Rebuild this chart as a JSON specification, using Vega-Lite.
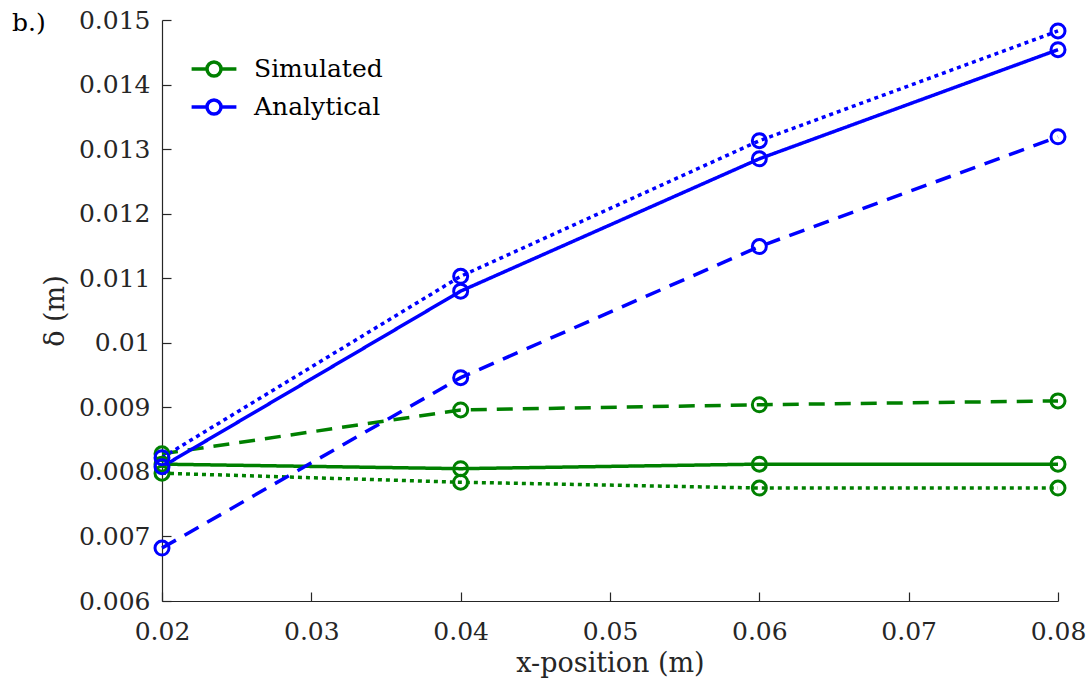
{
  "$schema": "https://vega.github.io/schema/vega-lite/v6.json",
  "autosize": {"type": "none"},
  "width": 896,
  "height": 581,
  "padding": {"left": 162, "top": 20, "right": 31, "bottom": 89},
  "background": "white",
  "title": {
    "text": "b.)",
    "anchor": "start",
    "frame": "group",
    "orient": "top",
    "dx": -150,
    "dy": 32,
    "font": "DejaVu Serif",
    "fontSize": 25,
    "fontWeight": "normal",
    "color": "#000000"
  },
  "config": {
    "view": {"stroke": null},
    "font": "DejaVu Serif",
    "axis": {
      "grid": false,
      "domainColor": "#262626",
      "domainWidth": 1.2,
      "tickColor": "#262626",
      "tickWidth": 1.2,
      "tickSize": -9,
      "labelFlush": false,
      "labelColor": "#262626",
      "labelFont": "DejaVu Serif",
      "labelFontSize": 25,
      "titleColor": "#262626",
      "titleFont": "DejaVu Serif",
      "titleFontSize": 27,
      "titleFontWeight": "normal"
    },
    "legend": {
      "labelFont": "DejaVu Serif"
    }
  },
  "data": {
    "values": [
      {"model": "Simulated", "case": "solid", "x": 0.02, "y": 0.00812},
      {"model": "Simulated", "case": "solid", "x": 0.04, "y": 0.00805},
      {"model": "Simulated", "case": "solid", "x": 0.06, "y": 0.00812},
      {"model": "Simulated", "case": "solid", "x": 0.08, "y": 0.00812},
      {"model": "Simulated", "case": "dashed", "x": 0.02, "y": 0.00828},
      {"model": "Simulated", "case": "dashed", "x": 0.04, "y": 0.00896},
      {"model": "Simulated", "case": "dashed", "x": 0.06, "y": 0.00904},
      {"model": "Simulated", "case": "dashed", "x": 0.08, "y": 0.0091},
      {"model": "Simulated", "case": "dotted", "x": 0.02, "y": 0.00798},
      {"model": "Simulated", "case": "dotted", "x": 0.04, "y": 0.00784},
      {"model": "Simulated", "case": "dotted", "x": 0.06, "y": 0.00775},
      {"model": "Simulated", "case": "dotted", "x": 0.08, "y": 0.00775},
      {"model": "Analytical", "case": "solid", "x": 0.02, "y": 0.00808},
      {"model": "Analytical", "case": "solid", "x": 0.04, "y": 0.0108},
      {"model": "Analytical", "case": "solid", "x": 0.06, "y": 0.01285},
      {"model": "Analytical", "case": "solid", "x": 0.08, "y": 0.01454},
      {"model": "Analytical", "case": "dashed", "x": 0.02, "y": 0.00682},
      {"model": "Analytical", "case": "dashed", "x": 0.04, "y": 0.00946},
      {"model": "Analytical", "case": "dashed", "x": 0.06, "y": 0.01149},
      {"model": "Analytical", "case": "dashed", "x": 0.08, "y": 0.01319},
      {"model": "Analytical", "case": "dotted", "x": 0.02, "y": 0.00822},
      {"model": "Analytical", "case": "dotted", "x": 0.04, "y": 0.01103},
      {"model": "Analytical", "case": "dotted", "x": 0.06, "y": 0.01313},
      {"model": "Analytical", "case": "dotted", "x": 0.08, "y": 0.01483}
    ]
  },
  "encoding": {
    "x": {
      "field": "x",
      "type": "quantitative",
      "scale": {"domain": [0.02, 0.08], "nice": false, "zero": false},
      "axis": {
        "title": "x-position (m)",
        "values": [0.02, 0.03, 0.04, 0.05, 0.06, 0.07, 0.08],
        "format": "~g",
        "labelPadding": 27,
        "titlePadding": 6
      }
    },
    "y": {
      "field": "y",
      "type": "quantitative",
      "scale": {"domain": [0.006, 0.015], "nice": false, "zero": false},
      "axis": {
        "title": "δ (m)",
        "values": [0.006, 0.007, 0.008, 0.009, 0.01, 0.011, 0.012, 0.013, 0.014, 0.015],
        "format": "~g",
        "labelPadding": 21,
        "titlePadding": 9
      }
    },
    "color": {
      "field": "model",
      "type": "nominal",
      "sort": ["Simulated", "Analytical"],
      "scale": {"domain": ["Simulated", "Analytical"], "range": ["#008000", "#0000ff"]},
      "legend": {
        "title": null,
        "orient": "none",
        "legendX": 36,
        "legendY": 33,
        "symbolType": "M-1.6,0H-0.5M0.5,0H1.6M0.5,0A0.5,0.5 0 1,1 -0.5,0A0.5,0.5 0 1,1 0.5,0",
        "symbolSize": 784,
        "symbolStrokeWidth": 3.5,
        "symbolFillColor": "white",
        "symbolOpacity": 1,
        "labelFont": "DejaVu Serif",
        "labelFontSize": 25,
        "labelColor": "#000000",
        "labelOffset": 24,
        "rowPadding": 8
      }
    },
    "detail": {"field": "case"}
  },
  "layer": [
    {
      "mark": {"type": "line", "strokeWidth": 3.5, "strokeCap": "butt"},
      "encoding": {
        "strokeDash": {
          "field": "case",
          "type": "nominal",
          "scale": {"domain": ["solid", "dashed", "dotted"], "range": [[1, 0], [16, 10], [4, 4]]},
          "legend": null
        }
      }
    },
    {
      "mark": {"type": "point", "shape": "circle", "filled": false, "size": 196, "strokeWidth": 3, "opacity": 1}
    }
  ]
}
